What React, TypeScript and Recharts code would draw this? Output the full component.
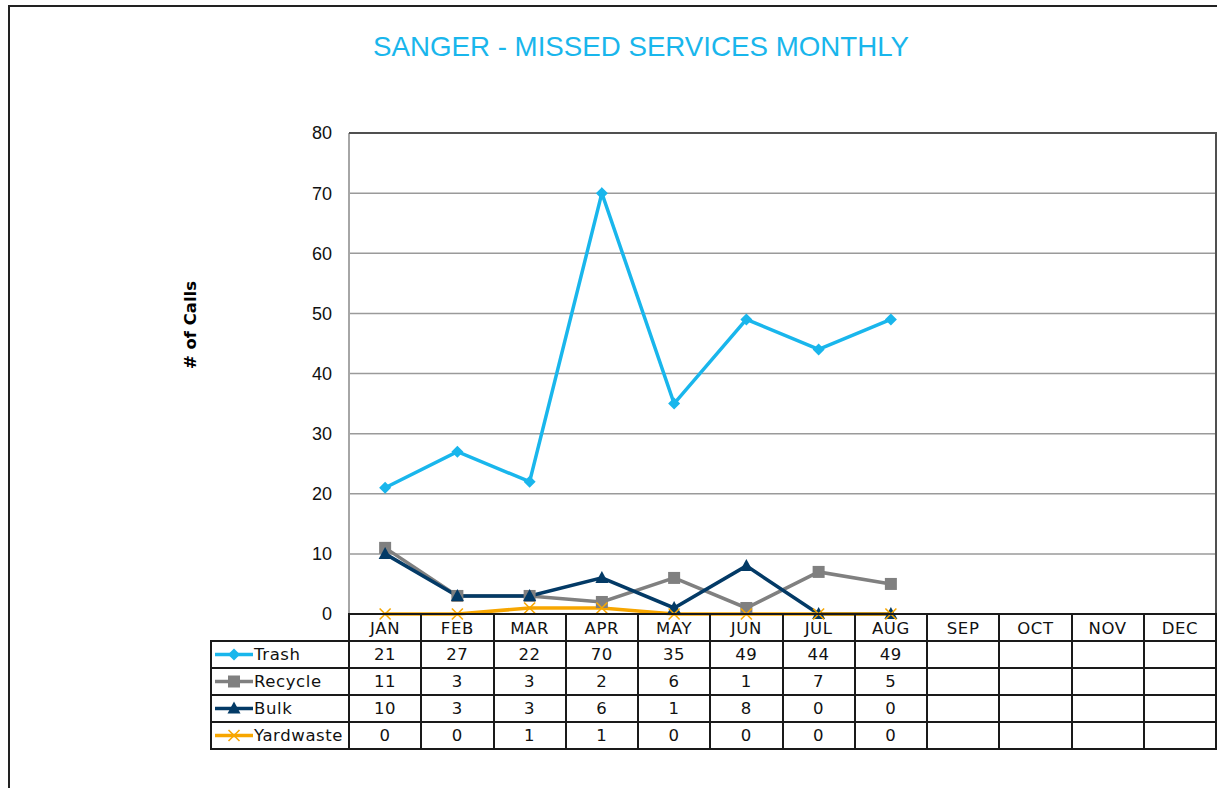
import { LineChart, Line, XAxis, YAxis, CartesianGrid } from 'recharts';

const months = ['JAN', 'FEB', 'MAR', 'APR', 'MAY', 'JUN', 'JUL', 'AUG', 'SEP', 'OCT', 'NOV', 'DEC'];
const trash = [21, 27, 22, 70, 35, 49, 44, 49];
const recycle = [11, 3, 3, 2, 6, 1, 7, 5];
const bulk = [10, 3, 3, 6, 1, 8, 0, 0];
const yardwaste = [0, 0, 1, 1, 0, 0, 0, 0];
const yTicks = [0, 10, 20, 30, 40, 50, 60, 70, 80];

const series = [
    { key: 'Trash', values: trash, color: '#19b6ec', shape: 'diamond' },
    { key: 'Recycle', values: recycle, color: '#808080', shape: 'square' },
    { key: 'Bulk', values: bulk, color: '#033a66', shape: 'triangle' },
    { key: 'Yardwaste', values: yardwaste, color: '#f7a600', shape: 'x' },
];

const data = months.map((m, i) => {
    const row: Record<string, string | number | null> = { month: m };
    series.forEach((s) => {
        row[s.key] = i < s.values.length ? s.values[i] : null;
    });
    return row;
});

const W = 1217;
const H = 788;
const PLOT_L = 349;
const PLOT_R = 1216;
const PLOT_T = 133;
const PLOT_B = 614;
const ROW_H = 27;
const LEGEND_L = 211;
const COL_W = (PLOT_R - PLOT_L) / months.length;
const LINE = '#1a1a1a';
const TABLE_FONT = { fontFamily: 'DejaVu Sans', fontSize: 16.5, letterSpacing: 0.6, color: '#111' };

function Marker({ shape, cx, cy, color }: { shape: string; cx: number; cy: number; color: string }) {
    if (cx == null || cy == null) return null;
    if (shape === 'diamond') {
        const r = 6;
        return <polygon points={`${cx},${cy - r} ${cx + r},${cy} ${cx},${cy + r} ${cx - r},${cy}`} fill={color} />;
    }
    if (shape === 'square') {
        return <rect x={cx - 6} y={cy - 6} width={12} height={12} fill={color} />;
    }
    if (shape === 'triangle') {
        return <polygon points={`${cx},${cy - 7} ${cx + 6.5},${cy + 5} ${cx - 6.5},${cy + 5}`} fill={color} />;
    }
    const r = 5.5;
    return (
        <g stroke={color} strokeWidth={1.6}>
            <line x1={cx - r} y1={cy - r} x2={cx + r} y2={cy + r} />
            <line x1={cx - r} y1={cy + r} x2={cx + r} y2={cy - r} />
        </g>
    );
}

function MonthTick(props: any) {
    const { x, payload } = props;
    return (
        <text x={x} y={PLOT_B + 19.5} textAnchor="middle" fontFamily="DejaVu Sans" fontSize={16.5} letterSpacing={0.6} fill="#111">
            {payload.value}
        </text>
    );
}

export default function App() {
    const hLines = [0, 1, 2, 3, 4, 5].map((i) => PLOT_B + i * ROW_H);
    const vLines = months.map((_, i) => PLOT_L + i * COL_W).concat([PLOT_R]);

    return (
        <div style={{ position: 'relative', width: W, height: H, overflow: 'hidden', background: '#fff' }}>
            <style>{'body{margin:0;overflow:hidden}'}</style>
            <div
                style={{
                    position: 'absolute', left: 8, top: 5, width: 1240, height: 820,
                    border: '2px solid #222', boxSizing: 'border-box',
                }}
            />
            <div
                style={{
                    position: 'absolute', left: 0, width: 1282, top: 31, textAlign: 'center',
                    fontFamily: 'Liberation Sans', fontSize: 27.7, color: '#19b6ec',
                }}
            >
                SANGER - MISSED SERVICES MONTHLY
            </div>
            <svg style={{ position: 'absolute', left: 0, top: 0 }} width={W} height={H}>
                <text
                    transform={`translate(196, 325) rotate(-90)`}
                    textAnchor="middle"
                    fontFamily="DejaVu Sans"
                    fontWeight="bold"
                    fontSize={16.5}
                    fill="#000"
                >
                    # of Calls
                </text>
            </svg>
            <div style={{ position: 'absolute', left: 0, top: 0 }}>
                <LineChart
                    width={W}
                    height={H}
                    data={data}
                    margin={{ top: PLOT_T, right: W - PLOT_R, bottom: H - PLOT_B - ROW_H, left: PLOT_L - 60 }}
                >
                    <CartesianGrid vertical={false} stroke="#9a9a9a" strokeWidth={1.5} />
                    <XAxis
                        dataKey="month"
                        height={ROW_H}
                        axisLine={false}
                        tickLine={false}
                        tickSize={0}
                        tickMargin={0}
                        tick={<MonthTick />}
                        interval={0}
                        padding={{ left: COL_W / 2, right: COL_W / 2 }}
                    />
                    <YAxis
                        width={60}
                        domain={[0, 80]}
                        ticks={yTicks}
                        interval={0}
                        axisLine={{ stroke: '#a6a6a6', strokeWidth: 2 }}
                        tickLine={false}
                        tickSize={0}
                        tickMargin={17}
                        tick={{ fontFamily: 'Liberation Sans', fontSize: 18, fill: '#111' }}
                    />
                    {series.map((s) => (
                        <Line
                            key={s.key}
                            type="linear"
                            dataKey={s.key}
                            stroke={s.color}
                            strokeWidth={3.5}
                            isAnimationActive={false}
                            connectNulls={false}
                            dot={(p: any) => <Marker key={`${s.key}-${p.index}`} shape={s.shape} cx={p.cx} cy={p.cy} color={s.color} />}
                            activeDot={false}
                        />
                    ))}
                </LineChart>
            </div>
            {/* plot border top / right */}
            <div style={{ position: 'absolute', left: PLOT_L, top: PLOT_T - 1, width: PLOT_R - PLOT_L, height: 2, background: '#505050' }} />
            <div style={{ position: 'absolute', left: PLOT_R - 1, top: PLOT_T - 1, width: 2, height: PLOT_B - PLOT_T, background: '#505050' }} />
            {/* data table grid */}
            {hLines.map((y, i) => (
                <div
                    key={`h${i}`}
                    style={{
                        position: 'absolute', top: y - 1, height: 2, background: LINE,
                        left: i === 0 ? PLOT_L - 1 : LEGEND_L - 1, width: (i === 0 ? PLOT_R - PLOT_L : PLOT_R - LEGEND_L) + 2,
                    }}
                />
            ))}
            {vLines.map((x, i) => (
                <div
                    key={`v${i}`}
                    style={{ position: 'absolute', left: x - 1, width: 2, top: PLOT_B - 1, height: ROW_H * 5 + 2, background: LINE }}
                />
            ))}
            <div style={{ position: 'absolute', left: LEGEND_L - 1, width: 2, top: PLOT_B + ROW_H - 1, height: ROW_H * 4 + 2, background: LINE }} />
            {series.map((s, r) => {
                const top = PLOT_B + ROW_H * (r + 1);
                return (
                    <div key={s.key}>
                        <svg style={{ position: 'absolute', left: LEGEND_L + 2, top }} width={42} height={ROW_H}>
                            <line x1={2} y1={ROW_H / 2} x2={40} y2={ROW_H / 2} stroke={s.color} strokeWidth={3.5} />
                            <Marker shape={s.shape} cx={21} cy={ROW_H / 2} color={s.color} />
                        </svg>
                        <div
                            style={{
                                position: 'absolute', left: LEGEND_L + 43, top, height: ROW_H, lineHeight: `${ROW_H}px`,
                                ...TABLE_FONT,
                            }}
                        >
                            {s.key}
                        </div>
                        {s.values.map((v, c) => (
                            <div
                                key={c}
                                style={{
                                    position: 'absolute', left: PLOT_L + c * COL_W, width: COL_W, top, height: ROW_H,
                                    lineHeight: `${ROW_H}px`, textAlign: 'center', ...TABLE_FONT,
                                }}
                            >
                                {v}
                            </div>
                        ))}
                    </div>
                );
            })}
        </div>
    );
}
